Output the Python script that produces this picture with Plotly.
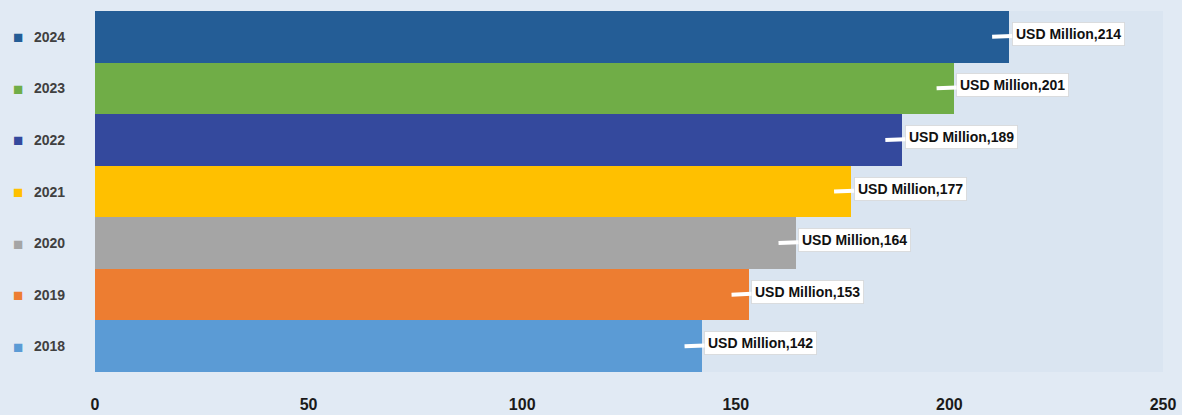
import plotly.graph_objects as go

# Annual values, bottom to top
years = ["2018", "2019", "2020", "2021", "2022", "2023", "2024"]
values = [142, 153, 164, 177, 189, 201, 214]
colors = ["#5b9bd5", "#ed7d31", "#a5a5a5", "#ffc000", "#34499d", "#70ad47", "#245d96"]
x_ticks = [0, 50, 100, 150, 200, 250]
unit = "USD Million"

fig = go.Figure()
fig.add_trace(go.Bar(
    x=values,
    y=years,
    orientation="h",
    marker=dict(color=colors, line=dict(width=0)),
    showlegend=False,
    hoverinfo="skip",
))

annotations = []
for i, (yr, val, col) in enumerate(zip(years, values, colors)):
    # value callout to the right of each bar (i = category slot)
    annotations.append(dict(
        x=val - 4, y=i, xref="x", yref="y",
        text=f"<b>{unit},{val}</b>",
        showarrow=True, arrowhead=0, arrowwidth=4, arrowcolor="white",
        ax=76, ay=-3,
        bgcolor="white", borderpad=3,
        bordercolor="rgba(205,205,205,0.6)", borderwidth=1,
        font=dict(family="Liberation Sans, Arial, sans-serif", size=14, color="#111"),
    ))
    # left-hand legend: colour square + year
    annotations.append(dict(
        x=-0.072, y=i, xref="paper", yref="y",
        text="■", showarrow=False, xanchor="center",
        font=dict(size=17, color=col),
    ))
    annotations.append(dict(
        x=-0.059, y=i, xref="paper", yref="y",
        text=f"<b>{yr}</b>", showarrow=False, xanchor="left",
        font=dict(family="Liberation Sans, Arial, sans-serif", size=14, color="#404040"),
    ))

fig.update_layout(
    width=1182, height=415,
    margin=dict(l=95, r=19, t=11, b=43),
    paper_bgcolor="#e1eaf4",
    plot_bgcolor="#dae5f1",
    bargap=0,
    annotations=annotations,
    xaxis=dict(
        range=[0, 250], tickvals=x_ticks,
        ticktext=[f"<b>{t}</b>" for t in x_ticks],
        showgrid=False, zeroline=False, showline=False,
        ticks="", ticklabelstandoff=21, automargin=False,
        tickfont=dict(family="Liberation Sans, Arial, sans-serif", size=16, color="#1a1a1a"),
        fixedrange=True,
    ),
    yaxis=dict(
        type="category",
        categoryorder="array", categoryarray=years,
        range=[-0.5, len(years) - 0.5],
        showticklabels=False, showgrid=False, zeroline=False, showline=False,
        automargin=False,
        fixedrange=True,
    ),
)

fig.write_html("out.html")
